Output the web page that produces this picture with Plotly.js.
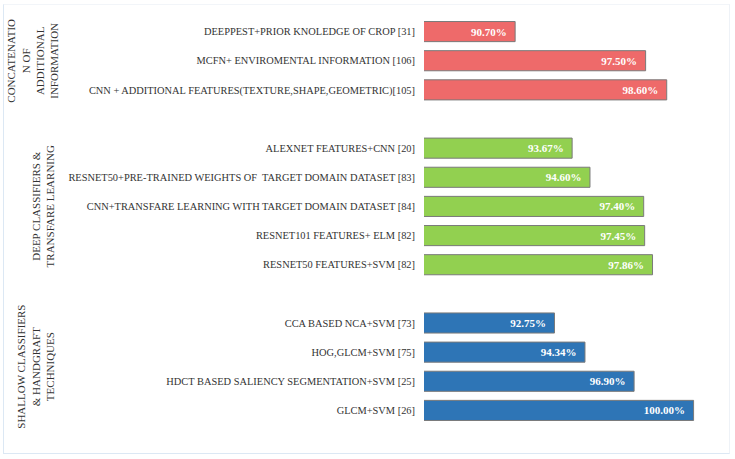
<!DOCTYPE html>
<html>
<head>
<meta charset="utf-8">
<script src="https://cdn.plot.ly/plotly-3.0.1.min.js"></script>
<style>
  html, body { margin: 0; padding: 0; background: #ffffff; }
  #wrap { position: relative; width: 735px; height: 459px; }
  #chart { width: 735px; height: 459px; }
  #frame { position: absolute; left: 3px; top: 4px; width: 727px; height: 450px;
           border: 1px solid #dce8f4; border-top-color: #f2f5f9; border-right-color: #eef2f7;
           pointer-events: none; box-sizing: border-box; }
</style>
</head>
<body>
<div id="wrap">
  <div id="chart"></div>
  <div id="frame"></div>
</div>
<script>
// ---- data (top to bottom) ----
const groupNames = [
  "CONCATENATIO<br>N OF<br>ADDITIONAL<br>INFORMATION",
  "DEEP CLASSIFIERS &<br>TRANSFARE LEARNING",
  "SHALLOW CLASSIFIERS<br>& HANDGRAFT<br>TECHNIQUES"
];
const concatLabels = [
  "DEEPPEST+PRIOR KNOLEDGE OF CROP [31]",
  "MCFN+ ENVIROMENTAL INFORMATION [106]",
  "CNN + ADDITIONAL FEATURES(TEXTURE,SHAPE,GEOMETRIC)[105]"
];
const concatValues = [90.70, 97.50, 98.60];
const deepLabels = [
  "ALEXNET FEATURES+CNN [20]",
  "RESNET50+PRE-TRAINED WEIGHTS OF  TARGET DOMAIN DATASET [83]",
  "CNN+TRANSFARE LEARNING WITH TARGET DOMAIN DATASET [84]",
  "RESNET101 FEATURES+ ELM [82]",
  "RESNET50 FEATURES+SVM [82]"
];
const deepValues = [93.67, 94.60, 97.40, 97.45, 97.86];
const shallowLabels = [
  "CCA BASED NCA+SVM [73]",
  "HOG,GLCM+SVM [75]",
  "HDCT BASED SALIENCY SEGMENTATION+SVM [25]",
  "GLCM+SVM [26]"
];
const shallowValues = [92.75, 94.34, 96.90, 100.00];
const groupColors = ["#ee6a6a", "#92d050", "#2e75b6"];

// ---- build ----
const groups = [
  {name: groupNames[0], labels: concatLabels, values: concatValues, color: groupColors[0]},
  {name: groupNames[1], labels: deepLabels, values: deepValues, color: groupColors[1]},
  {name: groupNames[2], labels: shallowLabels, values: shallowValues, color: groupColors[2]}
];

const W = 735, H = 459;
const margin = {l: 424, r: 4, t: 17, b: 34};
const pxToPaperX = px => (px - margin.l) / (W - margin.l - margin.r);

const traces = [];
const tickvals = [], ticktext = [];
const annotations = [];
const labelX = [33, 43, 36];
let slot = 0;
groups.forEach((g, gi) => {
  const ys = g.labels.map((_, i) => slot + i);
  ys.forEach((y, i) => { tickvals.push(y); ticktext.push(g.labels[i]); });
  traces.push({
    type: 'bar', orientation: 'h',
    x: g.values, y: ys,
    width: 0.69,
    marker: {color: g.color, line: {color: '#7a7a7a', width: 1}},
    texttemplate: '%{x:.2f}%\u00a0\u00a0',
    textposition: 'inside', insidetextanchor: 'end', textangle: 0,
    constraintext: 'none',
    textfont: {family: 'Liberation Serif, serif', size: 11, color: '#ffffff', weight: 'bold'},
    hoverinfo: 'skip', showlegend: false, cliponaxis: false
  });
  const center = (ys[0] + ys[ys.length - 1]) / 2;
  annotations.push({
    text: g.name, xref: 'paper', yref: 'y',
    x: pxToPaperX(labelX[gi]), y: center,
    textangle: -90, showarrow: false, align: 'center',
    xanchor: 'center', yanchor: 'middle',
    font: {family: 'Liberation Serif, serif', size: 11, color: '#333333'}
  });
  slot += g.labels.length + 1;
});

const layout = {
  width: W, height: H, margin: margin,
  paper_bgcolor: '#ffffff', plot_bgcolor: '#ffffff',
  bargap: 0.3,
  xaxis: {range: [85.95, 101.95], visible: false, fixedrange: true},
  yaxis: {
    range: [slot - 1.5, -0.5],
    tickmode: 'array', tickvals: tickvals, ticktext: ticktext,
    showgrid: false, zeroline: false, showline: false, ticks: '',
    ticklabelstandoff: 8,
    tickfont: {family: 'Liberation Serif, serif', size: 10.4, color: '#333333'},
    fixedrange: true
  },
  annotations: annotations,
  font: {family: 'Liberation Serif, serif'}
};

Plotly.newPlot('chart', traces, layout, {displayModeBar: false, staticPlot: true});
</script>
</body>
</html>
